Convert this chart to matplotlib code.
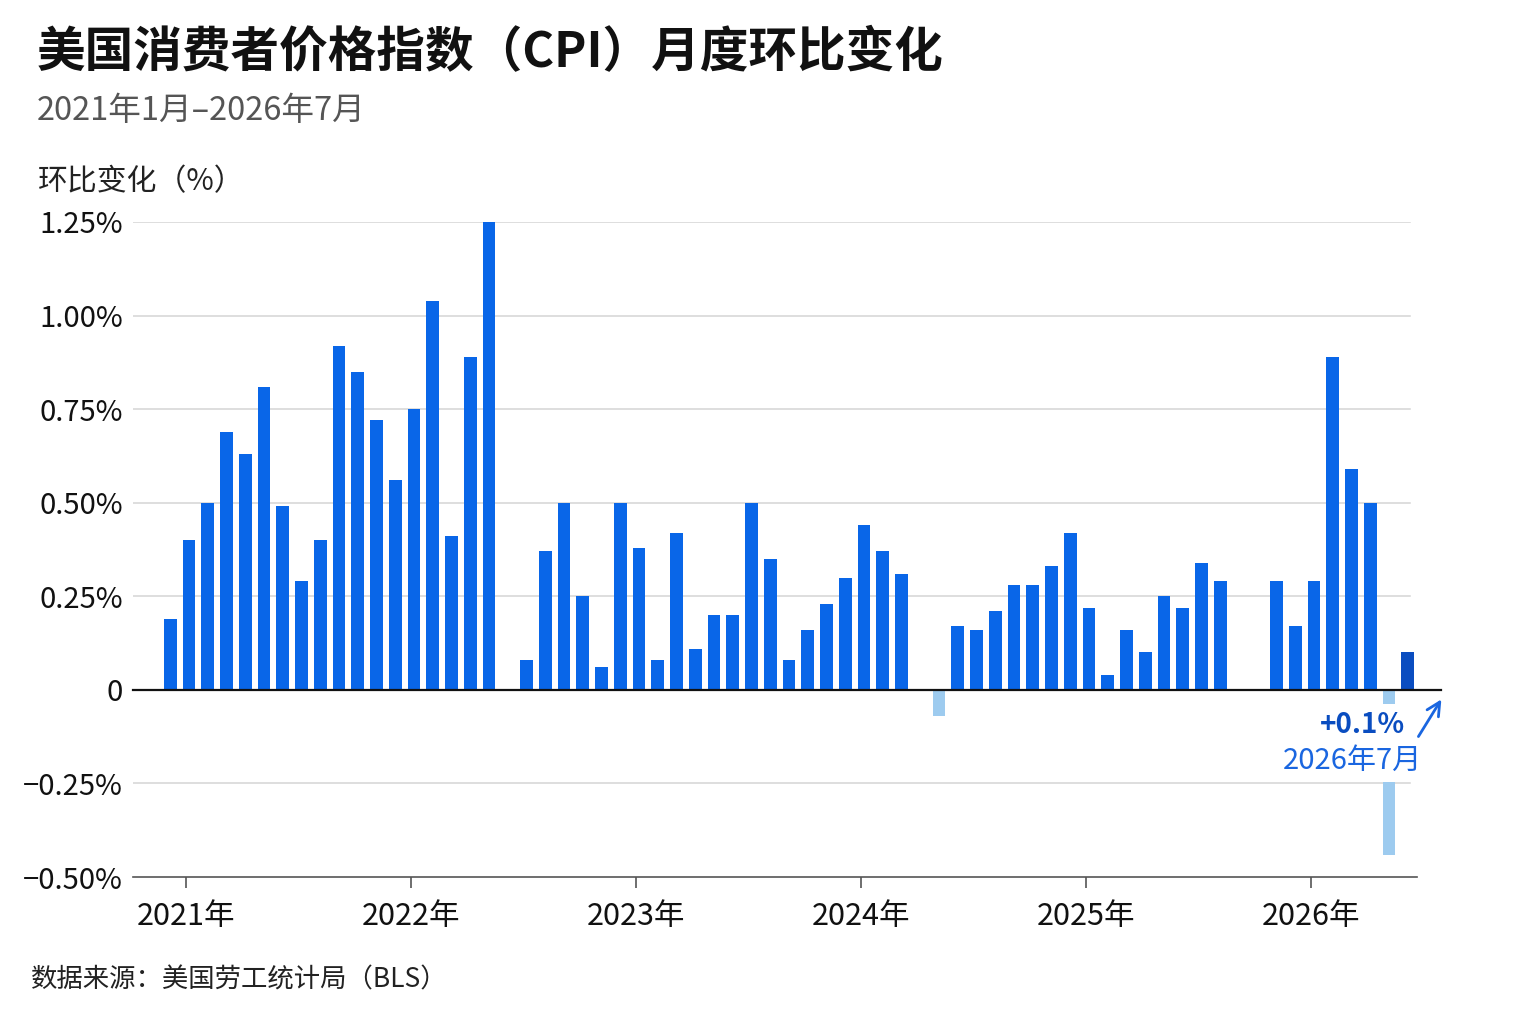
import matplotlib
matplotlib.use("Agg")
import matplotlib.pyplot as plt
import numpy as np
from matplotlib.ticker import FuncFormatter, FixedLocator

plt.rcParams['font.family'] = ['Noto Sans CJK SC', 'DejaVu Sans']
plt.rcParams['axes.unicode_minus'] = True

# 月度环比数据（%），None 表示该月无数据
years = [2021, 2022, 2023, 2024, 2025, 2026]
cpi_2021 = [0.19, 0.40, 0.50, 0.69, 0.63, 0.81, 0.49, 0.29, 0.40, 0.92, 0.85, 0.72]
cpi_2022 = [0.56, 0.75, 1.04, 0.41, 0.89, 1.25, None, 0.08, 0.37, 0.50, 0.25, 0.06]
cpi_2023 = [0.50, 0.38, 0.08, 0.42, 0.11, 0.20, 0.20, 0.50, 0.35, 0.08, 0.16, 0.23]
cpi_2024 = [0.30, 0.44, 0.37, 0.31, None, -0.07, 0.17, 0.16, 0.21, 0.28, 0.28, 0.33]
cpi_2025 = [0.42, 0.22, 0.04, 0.16, 0.10, 0.25, 0.22, 0.34, 0.29, None, None, 0.29]
cpi_2026 = [0.17, 0.29, 0.89, 0.59, 0.50, -0.44, 0.10]

values = cpi_2021 + cpi_2022 + cpi_2023 + cpi_2024 + cpi_2025 + cpi_2026
month_idx = np.arange(len(values))

blue = '#0966E8'
dark_blue = '#0A4DC0'
light_blue = '#9DCBEF'

fig = plt.figure(figsize=(15.37, 10.23), dpi=100)
ax = fig.add_axes([0.0865, 0.1427, 0.8354, 0.6403])

xs, hs, cols = [], [], []
for i, v in zip(month_idx, values):
    if v is None:
        continue
    xs.append(i)
    hs.append(v)
    if i == len(values) - 1:
        cols.append(dark_blue)
    elif v < 0:
        cols.append(light_blue)
    else:
        cols.append(blue)

ax.bar(xs, hs, width=0.68, color=cols, zorder=3)

ax.set_xlim(-1.99, 66.49)
ax.set_ylim(-0.5, 1.25)

# grid lines
for g in [0.25, 0.5, 0.75, 1.0, 1.25, -0.25]:
    ax.axhline(g, xmin=0, xmax=0.9945, color='#d4d4d4', lw=1.1, zorder=1)
ax.axhline(0, xmin=0, xmax=1.0187, color='#111111', lw=1.6, zorder=4, clip_on=False)

for s in ['top', 'right', 'left']:
    ax.spines[s].set_visible(False)
ax.spines['bottom'].set_color('#555555')
ax.spines['bottom'].set_linewidth(1.2)

ax.yaxis.set_major_locator(FixedLocator([-0.5, -0.25, 0, 0.25, 0.5, 0.75, 1.0, 1.25]))
ax.yaxis.set_major_formatter(FuncFormatter(lambda v, p: '0' if abs(v) < 1e-9 else f'{v:.2f}%'.replace('-', '\u2212')))
ax.tick_params(axis='y', length=0, pad=7, labelsize=21, labelcolor='#111111')

year_ticks = [12 * k + 0.85 for k in range(len(years))]
ax.set_xticks(year_ticks)
ax.set_xticklabels([f'{y}年' for y in years])
ax.tick_params(axis='x', length=8, width=1.2, color='#555555', pad=9, labelsize=22, labelcolor='#111111')

# annotation for latest month
last = month_idx[-1]
ax.text(last - 0.17, -0.095, '+0.1%', ha='right', va='center', fontsize=20, fontweight='bold',
        color='#0A4DC0', zorder=6,
        bbox=dict(boxstyle='square,pad=0.25', fc='white', ec='none'))
ax.text(last + 0.76, -0.19, '2026年7月', ha='right', va='center', fontsize=21,
        color='#1A66E0', zorder=6,
        bbox=dict(boxstyle='square,pad=0.2', fc='white', ec='none'))
ax.annotate('', xy=(last + 1.87, -0.019), xytext=(last + 0.49, -0.131),
            arrowprops=dict(arrowstyle='->', color='#1A66E0', lw=2, mutation_scale=24),
            annotation_clip=False, zorder=6)

fig.text(0.024, 0.949, '美国消费者价格指数（CPI）月度环比变化', fontsize=35, fontweight='bold',
         color='#111111', va='center', ha='left')
fig.text(0.024, 0.8915, '2021年1月–2026年7月', fontsize=23.5, color='#555555', va='center', ha='left')
fig.text(0.0247, 0.822, '环比变化（%）', fontsize=21.5, color='#222222', va='center', ha='left')
fig.text(0.020, 0.042, '数据来源：美国劳工统计局（BLS）', fontsize=19, color='#222222', va='center', ha='left')

fig.savefig('out.png', dpi=100, facecolor='white')
